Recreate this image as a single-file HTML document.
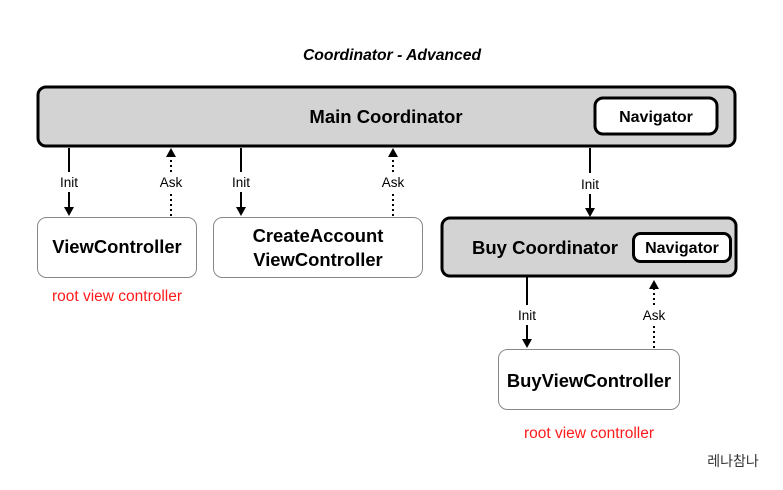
<!DOCTYPE html>
<html><head><meta charset="utf-8"><style>
body{margin:0;background:#fff;}
svg text{font-family:"Liberation Sans","Noto Sans CJK KR",sans-serif;}
</style></head><body>
<svg width="783" height="485" viewBox="0 0 783 485" xmlns="http://www.w3.org/2000/svg">
<rect width="783" height="485" fill="#fff"/>
<text x="392" y="60" text-anchor="middle" font-size="15.7" font-weight="bold" font-style="italic">Coordinator - Advanced</text>

<rect x="38" y="87" width="697" height="59" rx="8" fill="#d3d3d3" stroke="#000" stroke-width="3"/>
<text x="386" y="123" text-anchor="middle" font-size="18.5" font-weight="bold">Main Coordinator</text>
<rect x="595" y="98" width="122" height="36" rx="8" fill="#fff" stroke="#000" stroke-width="3"/>
<text x="656" y="122" text-anchor="middle" font-size="16" font-weight="bold">Navigator</text>

<rect x="37.5" y="217.5" width="159" height="60" rx="9" fill="#fff" stroke="#888" stroke-width="1"/>
<text x="117" y="253" text-anchor="middle" font-size="18.4" font-weight="bold">ViewController</text>
<rect x="213.5" y="217.5" width="209" height="60" rx="9" fill="#fff" stroke="#888" stroke-width="1"/>
<text x="318" y="242" text-anchor="middle" font-size="18.4" font-weight="bold">CreateAccount</text>
<text x="318" y="266" text-anchor="middle" font-size="18.4" font-weight="bold">ViewController</text>

<rect x="442" y="218" width="294" height="58" rx="8" fill="#d3d3d3" stroke="#000" stroke-width="3"/>
<text x="545" y="254" text-anchor="middle" font-size="18.5" font-weight="bold">Buy Coordinator</text>
<rect x="633.5" y="233.5" width="97" height="28" rx="7" fill="#fff" stroke="#000" stroke-width="3"/>
<text x="682" y="253" text-anchor="middle" font-size="16" font-weight="bold">Navigator</text>

<rect x="498.5" y="349.5" width="181" height="60" rx="9" fill="#fff" stroke="#888" stroke-width="1"/>
<text x="589" y="387" text-anchor="middle" font-size="18.4" font-weight="bold">BuyViewController</text>

<g stroke="#000" stroke-width="2" fill="none">
<line x1="69" y1="148" x2="69" y2="172"/><line x1="69" y1="192" x2="69" y2="208"/>
<line x1="241" y1="148" x2="241" y2="172"/><line x1="241" y1="192" x2="241" y2="208"/>
<line x1="590" y1="148" x2="590" y2="173"/><line x1="590" y1="194" x2="590" y2="209"/>
<line x1="527" y1="277" x2="527" y2="305"/><line x1="527" y1="325" x2="527" y2="340"/>
<g stroke-dasharray="2,3">
<line x1="171" y1="216" x2="171" y2="194"/><line x1="171" y1="172" x2="171" y2="155"/>
<line x1="393" y1="216" x2="393" y2="194"/><line x1="393" y1="172" x2="393" y2="155"/>
<line x1="654" y1="348" x2="654" y2="326"/><line x1="654" y1="305" x2="654" y2="287"/>
</g></g>
<g fill="#000">
<path d="M64,207 L74,207 L69,216 Z"/><path d="M236,207 L246,207 L241,216 Z"/>
<path d="M585,208 L595,208 L590,217 Z"/><path d="M522,339 L532,339 L527,348 Z"/>
<path d="M166,157 L176,157 L171,148 Z"/><path d="M388,157 L398,157 L393,148 Z"/>
<path d="M649,289 L659,289 L654,280 Z"/>
</g>
<g font-size="13.5" text-anchor="middle">
<text x="69" y="187">Init</text><text x="171" y="187">Ask</text>
<text x="241" y="187">Init</text><text x="393" y="187">Ask</text>
<text x="590" y="189">Init</text>
<text x="527" y="320">Init</text><text x="654" y="320">Ask</text>
</g>
<text x="117" y="301" text-anchor="middle" font-size="15.5" fill="#ff1a1a">root view controller</text>
<text x="589" y="438" text-anchor="middle" font-size="15.5" fill="#ff1a1a">root view controller</text>
<text x="733" y="466" text-anchor="middle" font-size="14" fill="#333">레나참나</text>
</svg>
</body></html>
